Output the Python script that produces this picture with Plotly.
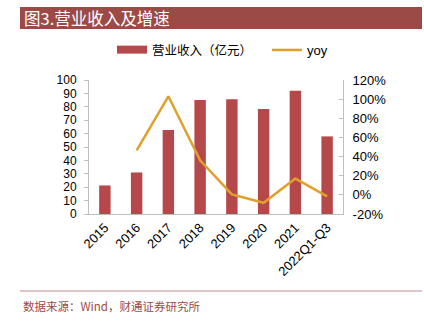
import plotly.graph_objects as go

categories = ["2015", "2016", "2017", "2018", "2019", "2020", "2021", "2022Q1-Q3"]
revenue = [21.3, 31.0, 62.6, 85.0, 85.6, 78.4, 92.0, 57.9]
yoy = [None, 46.5, 103.0, 36.0, 0.5, -8.3, 17.0, -1.5]
left_ticks = [0, 10, 20, 30, 40, 50, 60, 70, 80, 90, 100]
right_ticks = [-20, 0, 20, 40, 60, 80, 100, 120]
right_labels = [f"{v}%" for v in right_ticks]

W, H = 424, 321
L, R, T, B = 89, 81, 80, 107
pw, ph = W - L - R, H - T - B

def px(x):
    return (x - L) / pw

def py(y):
    return (H - B - y) / ph

bar_col = "#B5484A"
fig = go.Figure()
fig.add_trace(go.Bar(x=categories, y=revenue, name="营业收入（亿元）", showlegend=False,
                     marker=dict(color=bar_col, line=dict(width=0)), yaxis="y"))
# legend-only entry for bars, drawn as a wide swatch
fig.add_trace(go.Scatter(x=[None], y=[None], name="营业收入（亿元）", mode="lines",
                         line=dict(color=bar_col, width=8), yaxis="y", legend="legend"))
fig.add_trace(go.Scatter(x=categories, y=[v / 100 if v is not None else None for v in yoy],
                         name="yoy", mode="lines", legend="legend2",
                         line=dict(color="#E0A02A", width=2.5), yaxis="y2"))

axis_col = "#BFBFBF"
font_lat = "Arial, Liberation Sans, sans-serif"
leg_font = dict(family="Noto Sans CJK SC, sans-serif", size=12.5, color="#000")
fig.update_layout(
    width=W, height=H,
    margin=dict(l=L, r=R, t=T, b=B),
    paper_bgcolor="white", plot_bgcolor="white",
    bargap=0.64,
    showlegend=True,
    legend=dict(orientation="h", x=px(112), y=py(50), xanchor="left", yanchor="middle",
                font=leg_font, bgcolor="rgba(0,0,0,0)", itemwidth=30),
    legend2=dict(orientation="h", x=px(267), y=py(50), xanchor="left", yanchor="middle",
                 font=dict(family=font_lat, size=13, color="#000"),
                 bgcolor="rgba(0,0,0,0)", itemwidth=30),
    xaxis=dict(type="category", showgrid=False, showline=True, linecolor=axis_col,
               linewidth=1, ticks="", tickangle=-45,
               tickfont=dict(family=font_lat, size=13, color="#000")),
    yaxis=dict(range=[0, 100], tickvals=left_ticks, showgrid=False, showline=True,
               linecolor=axis_col, linewidth=1, ticks="outside", ticklen=4,
               tickcolor=axis_col, zeroline=False, ticklabelstandoff=5,
               tickfont=dict(family=font_lat, size=12, color="#000")),
    yaxis2=dict(range=[-0.2, 1.2], tickvals=[v / 100 for v in right_ticks],
                ticktext=right_labels, overlaying="y", side="right", showgrid=False,
                showline=True, linecolor=axis_col, linewidth=1, ticks="inside",
                ticklen=4, tickcolor=axis_col, zeroline=False, ticklabelstandoff=6,
                tickfont=dict(family=font_lat, size=13, color="#000")),
)

fig.add_shape(type="rect", xref="paper", yref="paper",
              x0=px(20), x1=px(422), y0=py(29), y1=py(7),
              fillcolor="#9C4A45", line=dict(width=0), layer="below")
fig.add_shape(type="line", xref="paper", yref="paper",
              x0=px(20), x1=px(422), y0=py(291), y1=py(291),
              line=dict(color="#C88A8A", width=1))
fig.add_annotation(text="图3.营业收入及增速", xref="paper", yref="paper",
                   x=px(22), y=py(18), xanchor="left", yanchor="middle", showarrow=False,
                   font=dict(family="Noto Sans CJK SC, serif", size=16.5, color="white"))
fig.add_annotation(text="数据来源：Wind，财通证券研究所", xref="paper", yref="paper",
                   x=px(21), y=py(306), xanchor="left", yanchor="middle", showarrow=False,
                   font=dict(family="Noto Sans CJK SC, serif", size=11.5, color="#9C4A45"))

fig.write_html("out.html")
